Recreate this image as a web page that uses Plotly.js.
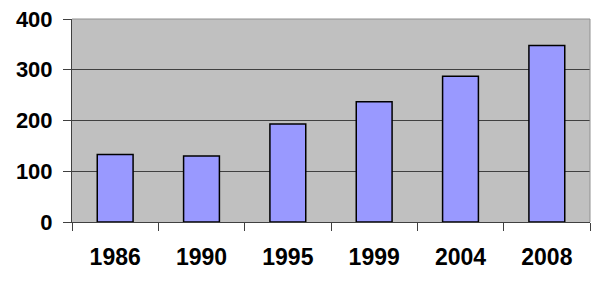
<!DOCTYPE html>
<html>
<head>
<meta charset="utf-8">
<script src="https://cdn.plot.ly/plotly-3.0.1.min.js"></script>
<style>html,body{margin:0;padding:0;background:#fff;}#chart{width:611px;height:287px;}</style>
</head>
<body>
<div id="chart"></div>
<script>
const years = ["1986", "1990", "1995", "1999", "2004", "2008"];
const values = [133, 130, 193, 237, 287, 348];
const yTicks = [0, 100, 200, 300, 400];

const trace = {
  type: "bar",
  x: years,
  y: values,
  marker: { color: "#9999FF", line: { color: "#000000", width: 1.5 } },
  hoverinfo: "none"
};

const layout = {
  width: 611,
  height: 287,
  margin: { l: 72, r: 21, t: 19, b: 65 },
  paper_bgcolor: "#ffffff",
  plot_bgcolor: "#C0C0C0",
  showlegend: false,
  bargap: 0.585,
  font: { family: "Liberation Sans, Arial, sans-serif", color: "#000" },
  xaxis: {
    type: "category",
    tickson: "boundaries",
    ticks: "outside",
    ticklen: 8,
    tickcolor: "#404040",
    tickwidth: 1,
    showgrid: false,
    showline: true,
    linecolor: "#404040",
    linewidth: 1,
    ticklabelstandoff: 14,
    tickfont: { size: 23, family: "Liberation Sans, Arial, sans-serif", weight: "bold" },
    zeroline: false,
    fixedrange: true
  },
  yaxis: {
    range: [0, 400],
    tickvals: yTicks,
    ticktext: yTicks.map(String),
    ticks: "outside",
    ticklen: 8,
    tickcolor: "#404040",
    showgrid: true,
    gridcolor: "#404040",
    gridwidth: 1,
    showline: true,
    linecolor: "#404040",
    linewidth: 1,
    zeroline: false,
    ticklabelstandoff: 6,
    tickfont: { size: 22, family: "Liberation Sans, Arial, sans-serif", weight: "bold" },
    fixedrange: true
  },
  shapes: [{
    type: "path", xref: "paper", yref: "paper",
    path: "M 0 1 L 1 1 L 1 0",
    line: { color: "#909090", width: 1 }, layer: "above"
  }]
};

Plotly.newPlot("chart", [trace], layout, { displayModeBar: false, staticPlot: true });
</script>
</body>
</html>
